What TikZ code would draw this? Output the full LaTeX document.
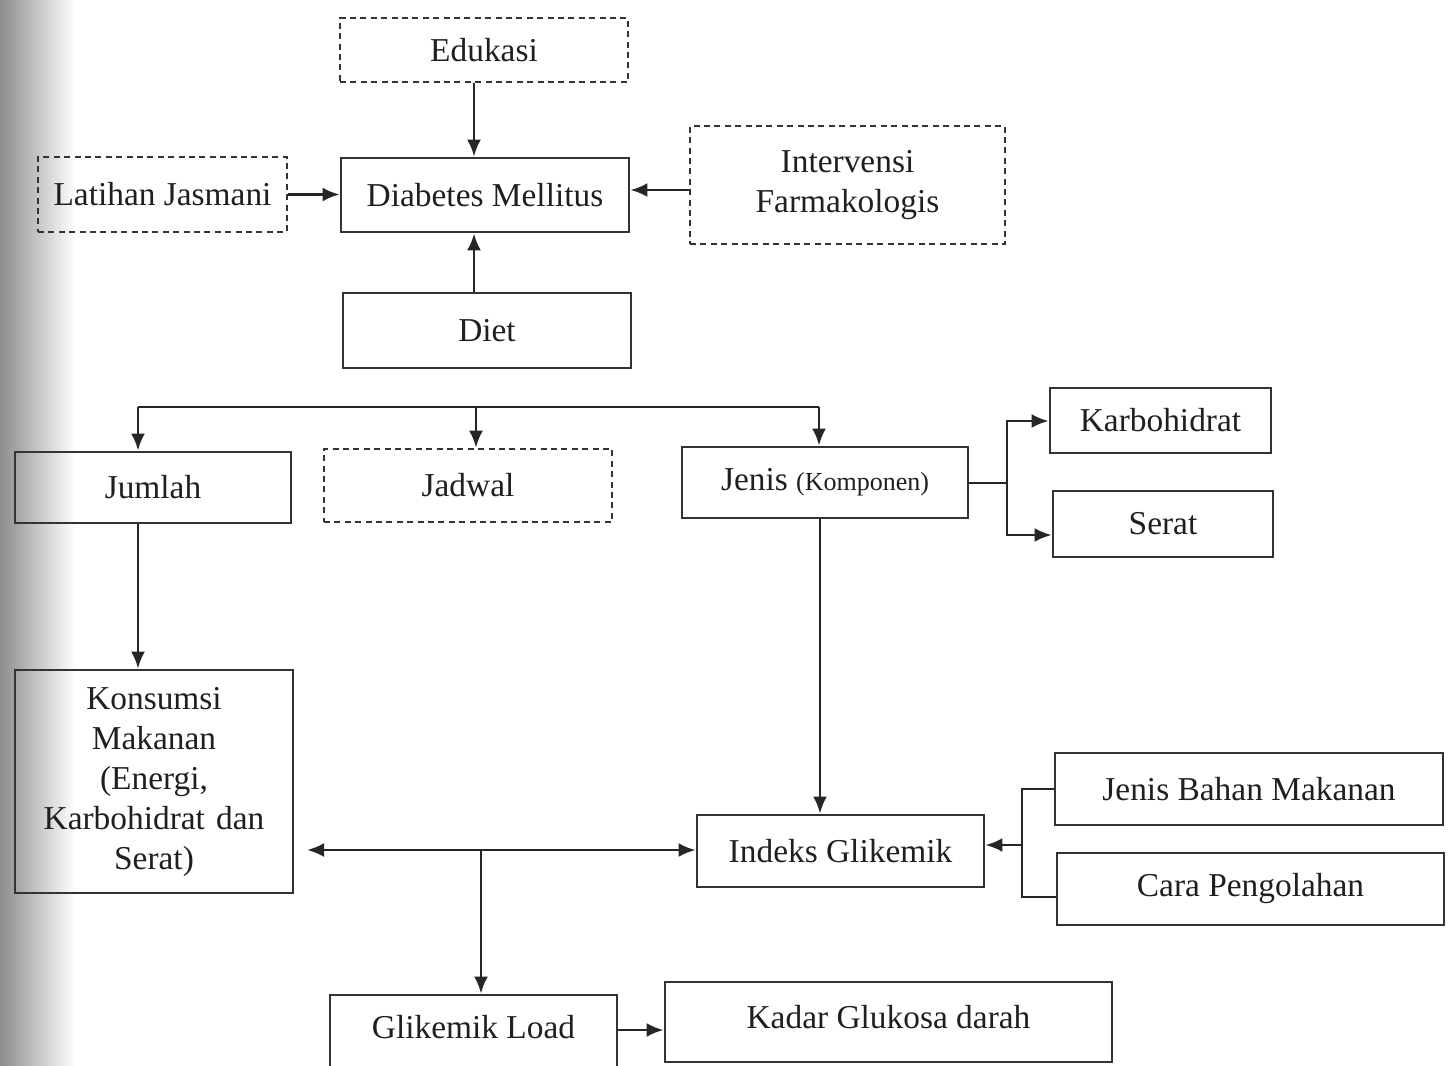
\documentclass[tikz,border=0pt]{standalone}
\usepackage{fontspec}
\setmainfont{Liberation Serif}
\usetikzlibrary{arrows.meta}
\begin{document}
\begin{tikzpicture}[x=0.5pt,y=-0.5pt,
  every node/.style={font=\fontsize{16.7}{20}\selectfont, text=black!88},
  box/.style={draw=black!80, line width=1.4pt, inner sep=0pt, align=center},
  dbox/.style={box, dash pattern=on 3pt off 2.2pt, line width=1.3pt},
  conn/.style={draw=black!85, line width=1.4pt},
  arr/.style={conn, -{Latex[length=8.5pt,width=7pt]}},
  darr/.style={conn, {Latex[length=8.5pt,width=7pt]}-{Latex[length=8.5pt,width=7pt]}}]
\useasboundingbox (0,0) rectangle (1454,1065);
\shade[left color=black!45, right color=white] (0,0) rectangle (75,1065);
% nodes
\node[dbox, minimum width=144pt, minimum height=32pt] (edu) at (484,50) {Edukasi};
\node[box, minimum width=144pt, minimum height=37pt] (dm) at (485,195) {Diabetes Mellitus};
\node[dbox, minimum width=124.5pt, minimum height=37.5pt] (lat) at (162.5,194.5) {Latihan Jasmani};
\node[dbox, minimum width=157.5pt, minimum height=59pt] (int) at (847.5,185) {\raisebox{2pt}{Intervensi}\\\raisebox{2pt}{Farmakologis}};
\node[box, minimum width=144pt, minimum height=37.5pt] (diet) at (487,330.5) {Diet};
\node[box, minimum width=138pt, minimum height=35.5pt] (jum) at (153,487.5) {Jumlah};
\node[dbox, minimum width=144pt, minimum height=36.5pt] (jad) at (468,485.5) {Jadwal};
\node[box, minimum width=143pt, minimum height=35.5pt] (jen) at (825,482.5) {Jenis {\fontsize{13}{15}\selectfont(Komponen)}};
\node[box, minimum width=110.5pt, minimum height=32.5pt] (karb) at (1160.5,420.5) {Karbohidrat};
\node[box, minimum width=110pt, minimum height=33pt] (ser) at (1163,524) {Serat};
\node[box, minimum width=139pt, minimum height=111.5pt, text width=136pt] (kon) at (154,781.5) {Konsumsi\\Makanan\\(Energi,\\Karbohidrat dan\\Serat)};
\node[box, minimum width=143.5pt, minimum height=36pt] (ig) at (840.5,851) {Indeks Glikemik};
\node[box, minimum width=194pt, minimum height=36pt] (jbm) at (1249,789) {Jenis Bahan Makanan};
\node[box, minimum width=193.5pt, minimum height=36pt] (cara) at (1250.5,889) {Cara Pengolahan};
\node[box, minimum width=143.5pt, minimum height=40pt, label={[yshift=4pt]center:Glikemik Load}] (gl) at (473.5,1035) {};
\node[box, minimum width=223.5pt, minimum height=40pt, label={[yshift=2.5pt]center:Kadar Glukosa darah}] (kad) at (888.5,1022) {};
% helper coordinates
\coordinate (x474) at (474,0);
\coordinate (y190) at (0,190);
\coordinate (bl) at (138,407);
\coordinate (bm) at (476,407);
\coordinate (br) at (819,407);
\coordinate (jx) at (1007,483);
\coordinate (jt) at (1007,421);
\coordinate (jb) at (1007,535);
\coordinate (kx) at (138,0);
\coordinate (ix) at (820,0);
\coordinate (hl) at (307,850);
\coordinate (hb) at (481,850);
\coordinate (bt) at (1022,789);
\coordinate (bb) at (1022,897);
\coordinate (bm2) at (1022,845);
\coordinate (gy) at (0,1030);
% connectors
\draw[arr] (edu.south -| x474) -- (dm.north -| x474);
\draw[arr] (diet.north -| x474) -- (dm.south -| x474);
\draw[arr] (lat.east) -- (dm.west |- lat.east);
\draw[arr] (int.west |- y190) -- (dm.east |- y190);
\draw[conn] (bl) -- (br);
\draw[arr] (bl) -- (jum.north -| bl);
\draw[arr] (bm) -- (jad.north -| bm);
\draw[arr] (br) -- (jen.north -| br);
\draw[conn] (jen.east |- jx) -- (jx);
\draw[arr] (jx) -- (jt) -- (karb.west |- jt);
\draw[arr] (jx) -- (jb) -- (ser.west |- jb);
\draw[arr] (jum.south -| kx) -- (kon.north -| kx);
\draw[arr] (jen.south -| ix) -- (ig.north -| ix);
\draw[darr] (hl) -- (ig.west |- hl);
\draw[arr] (hb) -- (gl.north -| hb);
\draw[conn] (jbm.west |- bt) -- (bt) -- (bb) -- (cara.west |- bb);
\draw[arr] (bm2) -- (ig.east |- bm2);
\draw[arr] (gl.east |- gy) -- (kad.west |- gy);
\end{tikzpicture}
\end{document}
